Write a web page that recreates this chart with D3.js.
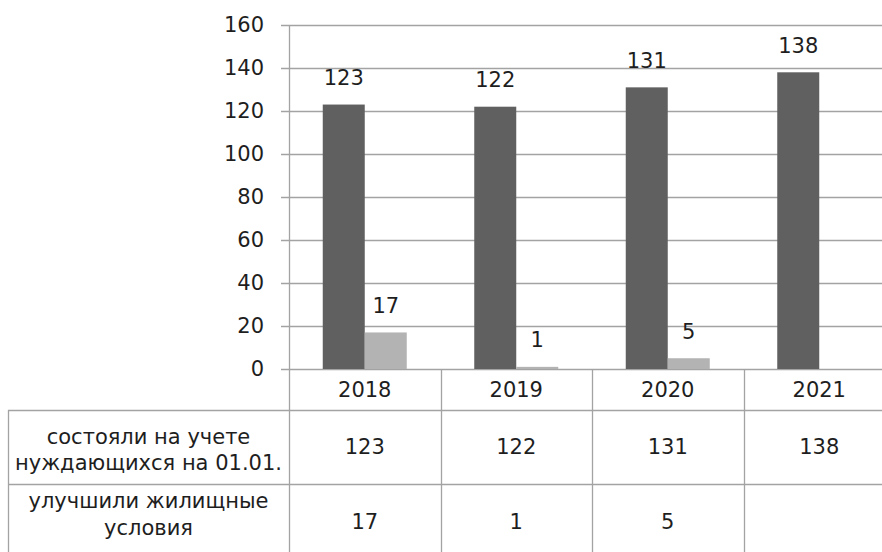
<!DOCTYPE html>
<html>
<head>
<meta charset="utf-8">
<script src="https://cdn.jsdelivr.net/npm/d3@7"></script>
<style>
  body { margin: 0; background: #fff; }
  text { font-family: "DejaVu Sans", sans-serif; fill: #1e1e1e; }
</style>
</head>
<body>
<svg id="chart" width="882" height="552"></svg>
<script>
var years = ["2018", "2019", "2020", "2021"];
var seriesNames = ["состояли на учете нуждающихся на 01.01.", "улучшили жилищные условия"];
var registered = [123, 122, 131, 138];
var improved = [17, 1, 5, null];
var yTicks = [0, 20, 40, 60, 80, 100, 120, 140, 160];

var svg = d3.select("#chart");
var plotLeft = 289, plotRight = 895, plotTop = 25, base = 369;
var rowLines = [369, 410, 484, 560];
var tableLeft = 8;
var colors = ["#606060", "#b3b3b3"];
var lineColor = "#a3a3a3";
var fontSize = 21;

var x = d3.scaleBand().domain(years).range([plotLeft, plotRight]);
var y = d3.scaleLinear().domain([0, 160]).range([base, plotTop]);
var barW = 42;

// gridlines
svg.append("g").selectAll("line")
  .data(yTicks)
  .enter().append("line")
  .attr("x1", plotLeft - 8).attr("x2", plotRight)
  .attr("y1", function(d) { return Math.round(y(d)) + 0.5; })
  .attr("y2", function(d) { return Math.round(y(d)) + 0.5; })
  .attr("stroke", lineColor).attr("stroke-width", 1.3);

// y labels
svg.append("g").selectAll("text")
  .data(yTicks)
  .enter().append("text")
  .attr("x", 264).attr("y", function(d) { return y(d); })
  .attr("dy", "0.35em").attr("text-anchor", "end")
  .style("font-size", fontSize + "px")
  .text(function(d) { return d; });

// y axis line
svg.append("line")
  .attr("x1", plotLeft + 0.5).attr("x2", plotLeft + 0.5)
  .attr("y1", plotTop).attr("y2", 552)
  .attr("stroke", lineColor).attr("stroke-width", 1.3);

// bars
var series = [registered, improved];
series.forEach(function(vals, si) {
  var g = svg.append("g");
  var pts = years.map(function(yr, i) { return { yr: yr, v: vals[i] }; })
    .filter(function(d) { return d.v != null; });
  g.selectAll("rect").data(pts).enter().append("rect")
    .attr("x", function(d) { return x(d.yr) + x.bandwidth() / 2 - barW + si * barW; })
    .attr("y", function(d) { return y(d.v); })
    .attr("width", barW)
    .attr("height", function(d) { return base - y(d.v); })
    .attr("fill", colors[si]);
  g.selectAll("text").data(pts).enter().append("text")
    .attr("x", function(d) { return x(d.yr) + x.bandwidth() / 2 - barW / 2 + si * barW; })
    .attr("y", function(d) { return y(d.v) - 27; })
    .attr("dy", "0.35em").attr("text-anchor", "middle")
    .style("font-size", fontSize + "px")
    .text(function(d) { return d.v; });
});

// data table
var tbl = svg.append("g");
// horizontal lines
[rowLines[1], rowLines[2]].forEach(function(ry) {
  tbl.append("line")
    .attr("x1", tableLeft).attr("x2", plotRight)
    .attr("y1", ry + 0.5).attr("y2", ry + 0.5)
    .attr("stroke", lineColor).attr("stroke-width", 1.3);
});
tbl.append("line")
  .attr("x1", tableLeft + 0.5).attr("x2", tableLeft + 0.5)
  .attr("y1", rowLines[1]).attr("y2", 552)
  .attr("stroke", lineColor).attr("stroke-width", 1.3);
// column dividers
tbl.selectAll("line.col").data(years.slice(1)).enter().append("line")
  .attr("class", "col")
  .attr("x1", function(d) { return Math.round(x(d)) + 0.5; })
  .attr("x2", function(d) { return Math.round(x(d)) + 0.5; })
  .attr("y1", base).attr("y2", 552)
  .attr("stroke", lineColor).attr("stroke-width", 1.3);

// year labels
tbl.selectAll("text.yr").data(years).enter().append("text")
  .attr("x", function(d) { return x(d) + x.bandwidth() / 2; })
  .attr("y", (rowLines[0] + rowLines[1]) / 2 + 0.5)
  .attr("dy", "0.35em").attr("text-anchor", "middle")
  .style("font-size", fontSize + "px")
  .text(function(d) { return d; });

// row labels and values
var rowLabelLines = [["состояли на учете", "нуждающихся на 01.01."], ["улучшили жилищные", "условия"]];
series.forEach(function(vals, si) {
  var cy = si === 0 ? 447 : 522;
  var ly = si === 0 ? [437, 463] : [501, 528];
  rowLabelLines[si].forEach(function(t, k) {
    tbl.append("text")
      .attr("x", (tableLeft + plotLeft) / 2).attr("y", ly[k])
      .attr("dy", "0.35em").attr("text-anchor", "middle")
      .style("font-size", fontSize + "px")
      .text(t);
  });
  tbl.selectAll("text.v" + si).data(years).enter().append("text")
    .attr("x", function(d) { return x(d) + x.bandwidth() / 2; })
    .attr("y", cy)
    .attr("dy", "0.35em").attr("text-anchor", "middle")
    .style("font-size", fontSize + "px")
    .text(function(d, i) { return vals[i] == null ? "" : vals[i]; });
});
</script>
</body>
</html>
